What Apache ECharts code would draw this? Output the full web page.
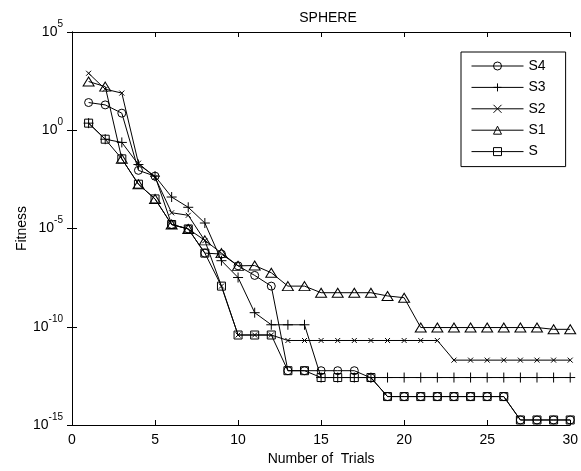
<!DOCTYPE html>
<html>
<head>
    <meta charset="utf-8"/>
    <title>SPHERE</title>
    <script src="https://cdn.jsdelivr.net/npm/echarts@6/dist/echarts.min.js"></script>
    <style type="text/css">
        body { margin: 0; background: #fff; }
        #main { width: 581px; height: 471px; }
    </style>
</head>
<body>
<div id="main"></div>
<script type="text/javascript">
    // trial number (x)
    var trials = [1, 2, 3, 4, 5, 6, 7, 8, 9, 10, 11, 12, 13, 14, 15,
                  16, 17, 18, 19, 20, 21, 22, 23, 24, 25, 26, 27, 28, 29, 30];

    // fitness per trial
    var s4 = [25.7, 19.5, 7.4, 9.1e-3, 4.6e-3, 1.6e-5, 9.5e-6, 5.6e-7, 5.0e-7, 1.26e-7,
              4.1e-8, 1.17e-8, 5.8e-13, 5.8e-13, 5.8e-13, 5.8e-13, 5.8e-13, 2.5e-13, 2.8e-14, 2.8e-14,
              2.8e-14, 2.8e-14, 2.8e-14, 2.8e-14, 2.8e-14, 2.8e-14, 1.8e-15, 1.8e-15, 1.8e-15, 1.8e-15];
    var s3 = [2.3, 0.35, 0.24, 0.018, 4.6e-3, 4.0e-4, 1.2e-4, 1.9e-5, 2.3e-7, 3.2e-8,
              5.2e-10, 1.26e-10, 1.26e-10, 1.26e-10, 2.6e-13, 2.6e-13, 2.6e-13, 2.6e-13, 2.6e-13, 2.6e-13,
              2.6e-13, 2.6e-13, 2.6e-13, 2.6e-13, 2.6e-13, 2.6e-13, 2.6e-13, 2.6e-13, 2.6e-13, 2.6e-13];
    var s2 = [794, 123, 78, 0.021, 4.0e-3, 6.3e-5, 4.7e-5, 2.4e-6, 1.17e-8, 3.8e-11,
              3.8e-11, 3.8e-11, 2.0e-11, 2.0e-11, 2.0e-11, 2.0e-11, 2.0e-11, 2.0e-11, 2.0e-11, 2.0e-11,
              2.0e-11, 2.0e-11, 2.0e-12, 2.0e-12, 2.0e-12, 2.0e-12, 2.0e-12, 2.0e-12, 2.0e-12, 2.0e-12];
    var s1 = [302, 166, 0.035, 1.8e-3, 3.2e-4, 1.6e-5, 9.5e-6, 2.5e-6, 5.6e-7, 1.26e-7,
              1.3e-7, 5.6e-8, 1.17e-8, 1.17e-8, 5.4e-9, 5.4e-9, 5.4e-9, 5.4e-9, 3.7e-9, 3.0e-9,
              9.1e-11, 9.1e-11, 9.1e-11, 9.1e-11, 9.1e-11, 9.1e-11, 9.1e-11, 9.1e-11, 7.4e-11, 7.4e-11];
    var s0 = [2.3, 0.35, 0.035, 1.8e-3, 3.2e-4, 1.6e-5, 9.5e-6, 5.6e-7, 1.17e-8, 3.8e-11,
              3.8e-11, 3.8e-11, 5.8e-13, 5.8e-13, 2.6e-13, 2.6e-13, 2.6e-13, 2.6e-13, 2.8e-14, 2.8e-14,
              2.8e-14, 2.8e-14, 2.8e-14, 2.8e-14, 2.8e-14, 2.8e-14, 1.8e-15, 1.8e-15, 1.8e-15, 1.8e-15];

    var seriesNames = ['S4', 'S3', 'S2', 'S1', 'S'];
    var xTicks = [0, 5, 10, 15, 20, 25, 30];

    var FONT = '"Liberation Sans", Arial, sans-serif';
    var PLUS = 'path://M0,5L10,5M5,0L5,10';
    var CROSS = 'path://M0,0L10,10M0,10L10,0';

    function pairs(ys) {
        var out = [];
        for (var i = 0; i < ys.length; i++) {
            out.push([trials[i], ys[i]]);
        }
        return out;
    }

    function makeSeries(name, ys, symbol, size) {
        return {
            name: name,
            type: 'line',
            data: pairs(ys),
            symbol: symbol,
            symbolSize: size,
            showAllSymbol: true,
            clip: false,
            lineStyle: { color: '#000', width: 1 },
            itemStyle: { color: 'rgba(0,0,0,0)', borderColor: '#000', borderWidth: 1 },
            emphasis: { disabled: true },
            animation: false
        };
    }

    var myChart = echarts.init(document.getElementById('main'));

    var option = {
        backgroundColor: '#fff',
        animation: false,
        title: {
            text: 'SPHERE',
            left: 323,
            textAlign: 'center',
            top: 6,
            textStyle: { fontFamily: FONT, fontSize: 14, fontWeight: 'normal', color: '#000' }
        },
        legend: {
            orient: 'vertical',
            left: 461,
            top: 52,
            data: seriesNames,
            itemWidth: 52,
            itemHeight: 10,
            itemGap: 5.4,
            padding: [6, 20, 7, 10],
            backgroundColor: '#fff',
            borderColor: '#000',
            borderWidth: 1,
            borderRadius: 0,
            selectedMode: false,
            lineStyle: { width: 1, color: '#000' },
            itemStyle: { borderWidth: 1, borderColor: '#000', color: 'rgba(0,0,0,0)' },
            textStyle: { fontFamily: FONT, fontSize: 14, color: '#000', lineHeight: 16 }
        },
        grid: {
            left: 72,
            right: 6,
            top: 32,
            bottom: 45,
            containLabel: false
        },
        xAxis: [{
            type: 'value',
            min: xTicks[0],
            max: xTicks[xTicks.length - 1],
            interval: 5,
            name: 'Number of  Trials',
            nameLocation: 'middle',
            nameGap: 27,
            nameMoveOverlap: false,
            nameTextStyle: { fontFamily: FONT, fontSize: 14, color: '#000' },
            axisLine: { lineStyle: { color: '#000', width: 1 } },
            axisTick: { inside: true, length: 5, lineStyle: { color: '#000' } },
            axisLabel: { fontFamily: FONT, fontSize: 14, color: '#000', margin: 8 },
            splitLine: { show: false }
        }, {
            type: 'value',
            position: 'top',
            min: xTicks[0],
            max: xTicks[xTicks.length - 1],
            interval: 5,
            axisLine: { lineStyle: { color: '#000', width: 1 } },
            axisTick: { inside: true, length: 5, lineStyle: { color: '#000' } },
            axisLabel: { show: false },
            splitLine: { show: false }
        }],
        yAxis: [{
            type: 'log',
            logBase: 10,
            min: 1e-15,
            max: 1e5,
            interval: 5,
            name: 'Fitness',
            nameLocation: 'middle',
            nameGap: 43,
            nameMoveOverlap: false,
            nameRotate: 90,
            nameTextStyle: { fontFamily: FONT, fontSize: 14, color: '#000' },
            axisLine: { lineStyle: { color: '#000', width: 1 } },
            axisTick: { inside: true, length: 5, lineStyle: { color: '#000' } },
            minorTick: { show: false },
            splitLine: { show: false },
            axisLabel: {
                margin: 9,
                formatter: function (v) {
                    var e = Math.round(Math.log(v) / Math.LN10);
                    return '{b|10}{s|' + e + '}';
                },
                rich: {
                    b: { fontFamily: FONT, fontSize: 14, color: '#000', lineHeight: 26, verticalAlign: 'middle' },
                    s: { fontFamily: FONT, fontSize: 10, color: '#000', lineHeight: 26, verticalAlign: 'top' }
                }
            }
        }, {
            type: 'log',
            logBase: 10,
            position: 'right',
            min: 1e-15,
            max: 1e5,
            interval: 5,
            axisLine: { show: true, lineStyle: { color: '#000', width: 1 } },
            axisTick: { show: true, inside: true, length: 5, lineStyle: { color: '#000' } },
            axisLabel: { show: false },
            splitLine: { show: false }
        }],
        series: [
            makeSeries(seriesNames[0], s4, 'circle', 8),
            makeSeries(seriesNames[1], s3, PLUS, 10),
            makeSeries(seriesNames[2], s2, CROSS, 5),
            makeSeries(seriesNames[3], s1, 'triangle', [11, 9]),
            makeSeries(seriesNames[4], s0, 'rect', 8)
        ]
    };
    myChart.setOption(option);
</script>
</body>
</html>
